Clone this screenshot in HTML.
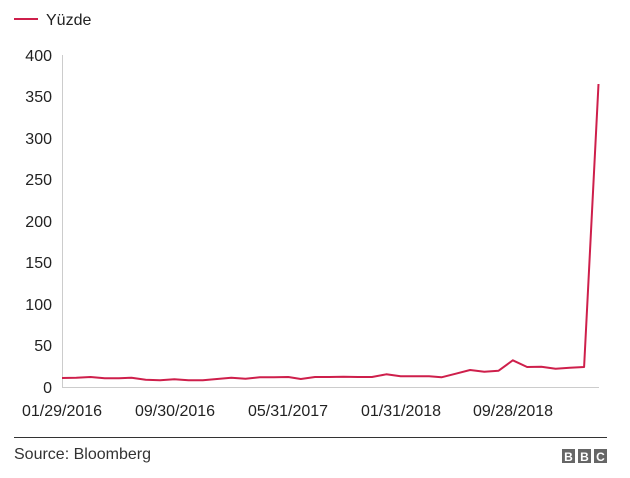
<!DOCTYPE html><html><head><meta charset="utf-8"><style>
body{margin:0;background:#fff;width:630px;height:473px;overflow:hidden;font-family:"Liberation Sans",Arial,sans-serif}
</style></head><body>
<svg width="630" height="473" xmlns="http://www.w3.org/2000/svg" font-family="Liberation Sans, Arial, sans-serif">
<line x1="14" y1="19" x2="38" y2="19" stroke="#ce1f4b" stroke-width="2"/>
<text x="46" y="25" font-size="16" fill="#222">Yüzde</text>
<g font-size="16" fill="#222" text-anchor="end">
<text x="52" y="61">400</text><text x="52" y="102">350</text><text x="52" y="144">300</text><text x="52" y="185">250</text><text x="52" y="227">200</text><text x="52" y="268">150</text><text x="52" y="310">100</text><text x="52" y="351">50</text><text x="52" y="393">0</text>
</g>
<line x1="62.5" y1="55" x2="62.5" y2="387" stroke="#ccc"/>
<line x1="62" y1="387.5" x2="599" y2="387.5" stroke="#ccc"/>
<g font-size="16" fill="#222" text-anchor="middle">
<text x="62" y="416">01/29/2016</text><text x="175" y="416">09/30/2016</text><text x="288" y="416">05/31/2017</text><text x="401" y="416">01/31/2018</text><text x="513" y="416">09/28/2018</text>
</g>
<polyline id="l" fill="none" stroke="#ce1f4b" stroke-width="2" stroke-linejoin="round" points=""/>
<line x1="14" y1="437.5" x2="607" y2="437.5" stroke="#333"/>
<text x="14" y="459" font-size="16" fill="#333">Source: Bloomberg</text>
<g fill="#666"><rect x="562" y="449" width="13" height="14"/><rect x="578" y="449" width="13" height="14"/><rect x="594" y="449" width="13" height="14"/></g>
<g font-size="12" font-weight="bold" fill="#fff" text-anchor="middle"><text x="568.5" y="461">B</text><text x="584.5" y="461">B</text><text x="600.5" y="461">C</text></g>
</svg>
<script>
var p=[[20,144],[60,143],[100,141],[140,145],[180,145],[215,143],[255,149],[295,151],[335,148],[375,151],[415,151],[455,147],[495,143],[535,146],[575,142],[615,142],[655,141],[690,147],[730,141],[770,141],[810,140],[850,141],[890,141],[930,133],[970,139],[1010,139],[1050,139],[1085,142],[1125,131],[1165,120],[1205,125],[1245,122],[1285,91],[1325,111],[1365,110],[1405,116],[1445,113],[1485,111]];
var s=p.map(function(a){return (62+(a[0]-20)/2.806).toFixed(1)+","+(330+a[1]/3).toFixed(1)}).join(" ")+" 598.5,84";
document.getElementById("l").setAttribute("points",s);
</script>
</body></html>
